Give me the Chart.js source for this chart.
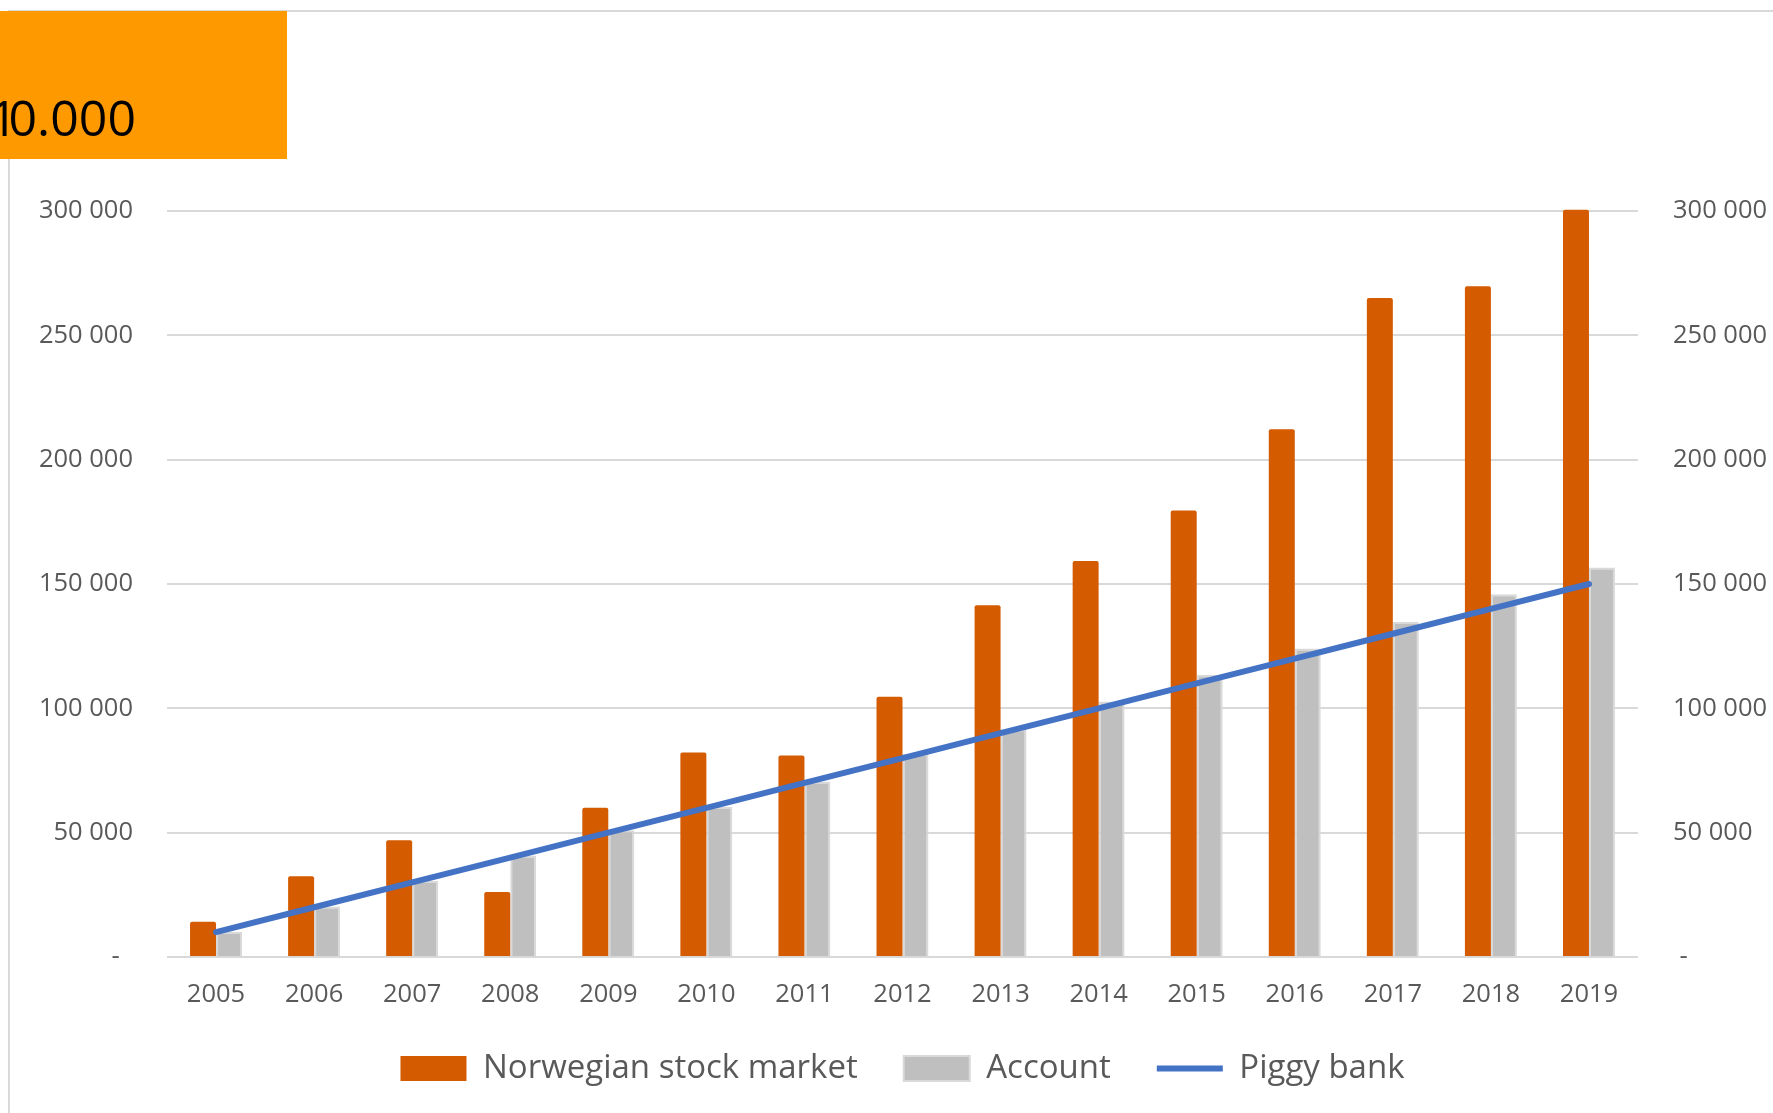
<!DOCTYPE html>
<html>
<head>
<meta charset="utf-8">
<script src="https://cdn.jsdelivr.net/npm/chart.js@4"></script>
<style>
  html, body { margin: 0; padding: 0; background: #fff; }
  #wrap { position: relative; width: 1773px; height: 1113px; overflow: hidden; font-family: "Open Sans", sans-serif; }
  #frame { position: absolute; left: 8px; top: 10px; right: -10px; bottom: -10px; border-left: 2px solid #d9d9d9; border-top: 2px solid #d9d9d9; }
  #badge { position: absolute; left: 0; top: 11px; width: 287px; height: 148px; background: #ff9900; overflow: hidden; }
  #badge span { position: absolute; right: 151px; top: 81px; font-size: 50px; line-height: 1; color: #000; white-space: nowrap; }
  #badge span b { font-weight: normal; letter-spacing: -9px; }
  canvas { position: absolute; left: 0; top: 0; }
</style>
</head>
<body>
<div id="wrap">
  <div id="frame"></div>
  <canvas id="chart" width="1773" height="1113"></canvas>
  <div id="badge"><span><b>1</b>0.000</span></div>
</div>
<script>
// verdier lest av bildet
const years = ['2005', '2006', '2007', '2008', '2009', '2010', '2011', '2012', '2013', '2014', '2015', '2016', '2017', '2018', '2019'];
const stockMarket = [14150, 32450, 47000, 26100, 60000, 82200, 81000, 104700, 141500, 159200, 179600, 212200, 265000, 269700, 300500];
const account = [10200, 20300, 30600, 40800, 51000, 60300, 70600, 81600, 91600, 102700, 113400, 124100, 134800, 145900, 156600];
const piggyBank = [10000, 20000, 30000, 40000, 50000, 60000, 70000, 80000, 90000, 100000, 110000, 120000, 130000, 140000, 150000];
const yTickLabels = [' -  ', '50 000', '100 000', '150 000', '200 000', '250 000', '300 000'];

const tickFont = { family: 'Open Sans', size: 25.5, lineHeight: 1 };
const labelColor = '#595959';

const ctx = document.getElementById('chart').getContext('2d');
new Chart(ctx, {
    type: 'bar',
    data: {
        labels: years,
        datasets: [
            {
                label: 'Norwegian stock market',
                data: stockMarket,
                backgroundColor: '#D45B00',
                borderWidth: 0,
                borderRadius: 2,
                pointStyle: 'rect',
                order: 1,
                clip: false
            },
            {
                label: 'Account',
                data: account,
                backgroundColor: '#BFBFBF',
                borderColor: '#D9D9D9',
                borderWidth: 2,
                pointStyle: 'rect',
                order: 1
            },
            {
                type: 'line',
                label: 'Piggy bank',
                data: piggyBank,
                borderColor: '#4472C4',
                backgroundColor: '#4472C4',
                borderWidth: 6,
                borderCapStyle: 'round',
                pointRadius: 0,
                pointStyle: 'line',
                tension: 0,
                order: 0
            }
        ]
    },
    options: {
        responsive: false,
        animation: false,
        layout: { padding: { top: 211, bottom: 18, left: 0, right: 0 } },
        datasets: { bar: { categoryPercentage: 0.53, barPercentage: 1 } },
        scales: {
            x: {
                grid: { display: false, drawTicks: false },
                border: { display: false },
                ticks: { font: tickFont, color: labelColor, padding: 25, maxRotation: 0 },
                afterFit: function(s) { s.height = 49; }
            },
            y: {
                position: 'left',
                min: 0,
                max: 300000,
                grid: { color: '#D9D9D9', lineWidth: 2, drawTicks: false },
                border: { display: false },
                ticks: {
                    stepSize: 50000,
                    font: tickFont,
                    color: labelColor,
                    padding: 34,
                    callback: function(v, i) { return yTickLabels[i]; }
                },
                afterFit: function(s) { s.width = 167; }
            },
            y2: {
                position: 'right',
                min: 0,
                max: 300000,
                grid: { display: false, drawTicks: false },
                border: { display: false },
                ticks: {
                    stepSize: 50000,
                    font: tickFont,
                    color: labelColor,
                    padding: 35,
                    callback: function(v, i) { return yTickLabels[i]; }
                },
                afterFit: function(s) { s.width = 135; }
            }
        },
        plugins: {
            legend: {
                position: 'bottom',
                fullSize: false,
                labels: {
                    usePointStyle: true,
                    pointStyleWidth: 66,
                    boxHeight: 25,
                    padding: 46,
                    color: labelColor,
                    font: { family: 'Open Sans', size: 33 },
                    sort: function(a, b) { return a.datasetIndex - b.datasetIndex; }
                }
            },
            tooltip: { enabled: false }
        }
    }
});
</script>
</body>
</html>
